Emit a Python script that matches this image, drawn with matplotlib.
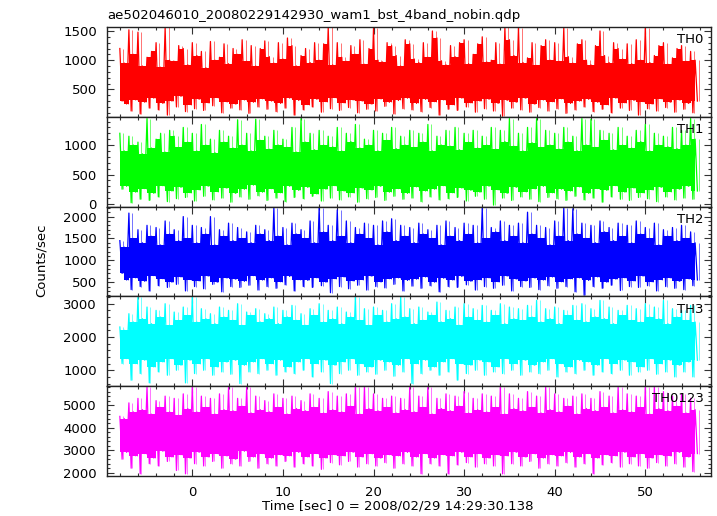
import numpy as np
import matplotlib
matplotlib.use('Agg')
import matplotlib.pyplot as plt
from matplotlib.ticker import MultipleLocator

# half-second time bins (bin start), seconds from 2008/02/29 14:29:30.138
t_start = np.arange(-8, 56, 0.5)

# per-bin peak and trough (counts/sec)
th0_hi = [1200, 950, 1520, 1100, 1480, 900, 1050, 1150, 1300, 880, 1560, 1000, 980, 1250, 1200, 920,
          1300, 1080, 1150, 870, 1320, 1000, 1050, 1280, 940, 1200, 1100, 1350, 980, 1250, 900, 1200,
          1330, 1060, 950, 1300, 1020, 1380, 1250, 900, 1080, 1200, 960, 1300, 1000, 1280, 1560, 920,
          1300, 1050, 980, 1250, 1100, 1350, 930, 1200, 1550, 1000, 970, 1300, 1250, 1080, 900, 1350,
          1280, 1020, 960, 1300, 1050, 1500, 1380, 990, 920, 1250, 1060, 1300, 1350, 940, 1100, 1280,
          1400, 970, 1000, 1300, 930, 1560, 1350, 1080, 1550, 960, 1040, 1300, 910, 1250, 1350, 1000,
          1300, 980, 1550, 1060, 950, 1280, 1350, 1000, 920, 1250, 1500, 1080, 960, 1300, 1200, 1020,
          1280, 940, 1350, 1000, 1550, 960, 1080, 1250, 1300, 930, 1040, 1200, 1250, 980, 1150, 1000]
th0_lo = [300, 250, 130, 320, 80, 280, 180, 350, 150, 260, 60, 300, 200, 380, 120, 240,
          170, 330, 140, 270, 220, 360, 100, 290, 180, 250, 150, 320, 90, 280, 200, 340,
          160, 300, 120, 260, 180, 350, 60, 310, 150, 240, 200, 330, 110, 290, 170, 360,
          140, 270, 190, 320, 100, 300, 160, 250, 130, 340, 210, 280, 80, 310, 170, 350,
          150, 260, 120, 330, 190, 290, 60, 320, 160, 240, 140, 350, 200, 270, 110, 300,
          170, 330, 130, 260, 40, 310, 180, 280, 150, 350, 110, 250, 190, 320, 130, 290,
          170, 340, 90, 260, 150, 300, 200, 330, 120, 280, 160, 240, 100, 350, 180, 270,
          140, 310, 60, 290, 170, 250, 130, 340, 190, 280, 110, 320, 160, 260, 100, 300]

th1_hi = [1200, 900, 1150, 1000, 1050, 850, 1450, 950, 1100, 1200, 880, 1250, 1150, 960, 1300, 1050,
          1200, 900, 1350, 1000, 1100, 870, 1250, 1050, 1150, 950, 1430, 1000, 1200, 900, 1440, 1080,
          1150, 930, 1250, 1000, 1100, 960, 1300, 880, 1450, 1050, 1200, 920, 1250, 1000, 1150, 970,
          1300, 900, 1200, 1060, 1350, 950, 1100, 1000, 1250, 900, 1200, 1080, 1300, 940, 1150, 1000,
          1250, 960, 1200, 1050, 1350, 900, 1150, 1000, 1250, 980, 1300, 920, 1200, 1050, 1250, 950,
          1150, 1000, 1300, 930, 1250, 1060, 1450, 980, 1200, 900, 1300, 1040, 1450, 960, 1250, 1000,
          1200, 930, 1300, 1050, 1150, 900, 1450, 1000, 1440, 960, 1250, 1080, 1200, 920, 1300, 1000,
          1150, 950, 1250, 1060, 1350, 900, 1200, 1000, 1150, 970, 1300, 940, 1250, 1000, 1450, 1100]
th1_lo = [250, 300, 20, 200, 80, 260, 60, 180, 120, 310, 40, 220, 90, 280, 110, 190,
          50, 240, 130, 300, 70, 210, 100, 270, 30, 180, 120, 250, 80, 320, 140, 200,
          60, 260, 100, 190, 40, 300, 110, 230, 90, 280, 130, 170, 50, 250, 100, 310,
          70, 220, 120, 190, 30, 270, 90, 240, 110, 300, 60, 200, 130, 260, 80, 180,
          100, 290, 40, 220, 120, 250, 70, 310, 90, 190, 110, 270, 50, 230, 130, 200,
          80, 300, -20, 240, 100, 180, 60, 280, 120, 210, 80, 260, 40, 300, 110, 190,
          90, 250, 60, 220, 130, 290, 70, 180, 100, 260, 30, 230, 120, 310, 80, 200,
          60, 270, 110, 190, 90, 240, 40, 280, 120, 210, 70, 250, 100, 300, 80, 220]

th2_hi = [1450, 1300, 2080, 1500, 1700, 1400, 1800, 1550, 1750, 1350, 1900, 1600, 1700, 1450, 2000, 1500,
          1800, 1400, 1750, 1600, 2000, 1350, 1700, 1550, 1850, 1450, 1750, 1500, 1650, 1400, 1800, 1600,
          1700, 1450, 2200, 1550, 1750, 1350, 1850, 1600, 1700, 1500, 1900, 1400, 2200, 1650, 1800, 1450,
          2150, 1550, 1900, 1400, 1750, 1600, 1850, 1500, 1800, 1350, 1900, 1650, 1950, 1450, 1800, 1550,
          1750, 1400, 1850, 1600, 1700, 1500, 1800, 1350, 1900, 1550, 1750, 1450, 1850, 1600, 1800, 1400,
          2200, 1500, 1750, 1650, 1900, 1450, 1800, 1550, 1850, 1400, 2100, 1600, 1800, 1500, 1750, 1350,
          1900, 1550, 2200, 1450, 2180, 1600, 1850, 1500, 1800, 1400, 1900, 1650, 1750, 1450, 1850, 1550,
          1800, 1400, 1900, 1600, 1750, 1500, 1850, 1350, 1700, 1550, 1750, 1450, 1800, 1500, 1650, 1400]
th2_lo = [700, 550, 330, 600, 400, 520, 300, 650, 420, 580, 380, 500, 450, 620, 300, 560,
          400, 530, 350, 640, 450, 500, 280, 600, 400, 570, 380, 520, 430, 650, 320, 550,
          400, 600, 360, 510, 440, 630, 300, 560, 400, 540, 380, 600, 420, 500, 260, 580,
          400, 620, 350, 530, 430, 560, 320, 640, 400, 510, 370, 580, 450, 600, 300, 540,
          410, 570, 360, 620, 420, 500, 280, 590, 400, 550, 380, 630, 440, 520, 320, 560,
          400, 600, 360, 510, 430, 640, 300, 570, 400, 530, 380, 600, 330, 550, 420, 620,
          360, 510, 400, 580, 280, 600, 200, 540, 400, 620, 360, 500, 430, 570, 310, 600,
          400, 530, 380, 640, 420, 510, 300, 560, 400, 600, 360, 520, 330, 580, 420, 550]

th3_hi = [2300, 2200, 2700, 2450, 3200, 2550, 2900, 2400, 2800, 2600, 3000, 2350, 2750, 2500, 2900, 2650,
          3200, 2450, 2850, 2550, 2700, 2400, 2900, 2600, 2800, 2500, 3000, 2350, 2750, 2650, 2850, 2450,
          2700, 2550, 2900, 2400, 2800, 2600, 2950, 2500, 2700, 2350, 2850, 2650, 3000, 2450, 2800, 2550,
          2900, 2400, 2750, 2600, 3200, 2500, 2850, 2350, 2900, 2650, 2800, 2450, 3000, 2550, 3200, 2600,
          2850, 2400, 2900, 2500, 2750, 2650, 3050, 2450, 2800, 2550, 2900, 2350, 3000, 2600, 2850, 2500,
          2950, 2450, 2800, 2650, 3000, 2400, 2900, 2550, 2850, 2500, 2950, 2600, 3100, 2450, 2850, 2550,
          2900, 2400, 2800, 2650, 2950, 2500, 3000, 2450, 2850, 2600, 3100, 2550, 2900, 2400, 2800, 2650,
          2950, 2500, 2850, 2450, 3000, 2600, 2900, 2550, 3100, 2400, 2850, 2600, 2800, 2500, 2950, 2450]
th3_lo = [1200, 1350, 700, 1200, 900, 1300, 620, 1100, 950, 1250, 850, 1350, 1000, 1150, 620, 1300,
          900, 1200, 1000, 1350, 850, 1100, 950, 1250, 880, 1300, 600, 1150, 950, 1250, 900, 1350,
          1000, 1200, 850, 1300, 950, 1100, 900, 1250, 1000, 1350, 800, 1200, 950, 1300, 600, 1150,
          900, 1250, 1000, 1350, 850, 1200, 950, 1100, 880, 1300, 1000, 1250, 820, 1150, 950, 1350,
          600, 1200, 900, 1300, 1000, 1100, 850, 1250, 950, 1350, 700, 1200, 900, 1150, 1000, 1300,
          850, 1250, 950, 1100, 900, 1350, 1000, 1200, 850, 1300, 950, 1150, 900, 1250, 1000, 1350,
          800, 1200, 950, 1100, 900, 1300, 1000, 1250, 850, 1150, 950, 1350, 900, 1200, 1000, 1300,
          850, 1250, 950, 1100, 1000, 1350, 880, 1200, 950, 1300, 800, 1150, 950, 1250, 800, 1300]

th0123_hi = [4500, 4400, 5100, 4700, 5300, 4800, 5800, 4600, 5200, 4900, 5400, 4700, 5300, 4550, 5500, 4850,
             5800, 4700, 5400, 4900, 5300, 4600, 5500, 4800, 5800, 4750, 5300, 4950, 5800, 4650, 5400, 4800,
             5200, 4700, 5500, 4900, 5300, 4600, 5400, 4850, 5200, 4750, 5500, 4900, 5300, 4650, 5600, 4800,
             5400, 4700, 5500, 4950, 5800, 4600, 5800, 4850, 5500, 4750, 5300, 4900, 5400, 4650, 5300, 4800,
             5800, 4700, 5400, 4900, 5800, 4600, 5300, 4850, 5500, 4750, 5400, 4950, 5600, 4650, 5300, 4800,
             5500, 4700, 5400, 4900, 5800, 4600, 5500, 4850, 5300, 4750, 5600, 4900, 5400, 4650, 5800, 4800,
             5500, 4700, 5300, 4950, 5400, 4600, 5500, 4850, 5300, 4750, 5600, 4900, 5400, 4650, 5800, 4800,
             5500, 4700, 5400, 4900, 5800, 4600, 5800, 4850, 5600, 4750, 5400, 4950, 5500, 4650, 5300, 4800]
th0123_lo = [2600, 2900, 2200, 2750, 1950, 2850, 2400, 2650, 2300, 2950, 2500, 2700, 2100, 2800, 1950, 2650,
             2400, 2900, 2300, 2700, 2500, 2850, 2200, 2750, 2400, 2600, 2300, 2950, 2500, 2700, 2200, 2850,
             2400, 2650, 2300, 2800, 2500, 2750, 2250, 2900, 2400, 2700, 2300, 2850, 2150, 2650, 2450, 2800,
             2350, 2750, 2500, 2900, 2250, 2700, 2400, 2850, 2300, 2650, 2450, 2800, 2200, 2750, 2400, 2900,
             2300, 2700, 1950, 2850, 2400, 2650, 2300, 2800, 1950, 2750, 2350, 2900, 2450, 2700, 2250, 2850,
             2400, 2650, 2300, 2800, 1950, 2750, 2400, 2900, 2300, 2700, 2500, 2850, 2200, 2650, 2400, 2800,
             2300, 2750, 2450, 2900, 2250, 2700, 2400, 2850, 1950, 2650, 2350, 2800, 2450, 2750, 2250, 2900,
             2400, 2700, 2300, 2850, 2200, 2650, 2450, 2800, 2300, 2750, 2400, 2900, 2250, 2700, 2050, 2850]

bands = ['TH0', 'TH1', 'TH2', 'TH3', 'TH0123']
highs = [th0_hi, th1_hi, th2_hi, th3_hi, th0123_hi]
lows = [th0_lo, th1_lo, th2_lo, th3_lo, th0123_lo]
colors = ['#ff0000', '#00ff00', '#0000ff', '#00ffff', '#ff00ff']
ylims = [(31, 1568), (-45, 1480), (175, 2228), (520, 3220), (1854, 5840)]
majors = [500, 500, 500, 1000, 1000]
minors = [100, 100, 100, 200, 200]

plt.rcParams['font.family'] = 'DejaVu Sans'
plt.rcParams['font.size'] = 9.5

fig = plt.figure(figsize=(7.17, 5.16), dpi=100)
gs = fig.add_gridspec(5, 1, left=106.7/717, right=711/717, top=1-27/516, bottom=1-476/516, hspace=0)

for k in range(5):
    ax = fig.add_subplot(gs[k])
    hi = np.array(highs[k])
    lo = np.array(lows[k])
    # dense part: range covered by neighbouring samples
    body_hi = np.minimum(hi, np.roll(hi, -1))
    body_lo = np.maximum(lo, np.roll(lo, -1))
    ax.fill_between(t_start, body_lo, body_hi, step='post', color=colors[k], lw=0)
    # peak then trough inside each half-second bin
    xs = np.column_stack([t_start, t_start + 0.25]).ravel()
    ys = np.column_stack([hi, lo]).ravel()
    ax.plot(xs, ys, color=colors[k], lw=0.9)
    ax.vlines(t_start + 0.375, lo, hi, color=colors[k], lw=0.7, alpha=0.55)
    ax.set_xlim(-9.45, 57.25)
    ax.set_ylim(*ylims[k])
    ax.xaxis.set_major_locator(MultipleLocator(10))
    ax.xaxis.set_minor_locator(MultipleLocator(2))
    ax.yaxis.set_major_locator(MultipleLocator(majors[k]))
    ax.yaxis.set_minor_locator(MultipleLocator(minors[k]))
    ax.tick_params(which='both', direction='in', top=True, right=True, color='#333333', width=0.8)
    ax.tick_params(which='major', length=5, pad=7)
    ax.tick_params(which='minor', length=2.5)
    for s in ax.spines.values():
        s.set_linewidth(1.0)
        s.set_color('#222222')
    if k < 4:
        ax.tick_params(labelbottom=False)
    ax.text(0.988, 0.93, bands[k], transform=ax.transAxes, ha='right', va='top', fontsize=9.5)

fig.text(107/717, 1-15/516, 'ae502046010_20080229142930_wam1_bst_4band_nobin.qdp', ha='left', va='center')
fig.text(41/717, 1-260/516, 'Counts/sec', rotation=90, ha='center', va='center')
fig.text(398/717, 1-506/516, 'Time [sec] 0 = 2008/02/29 14:29:30.138', ha='center', va='center')

fig.savefig('out.png', dpi=100)
